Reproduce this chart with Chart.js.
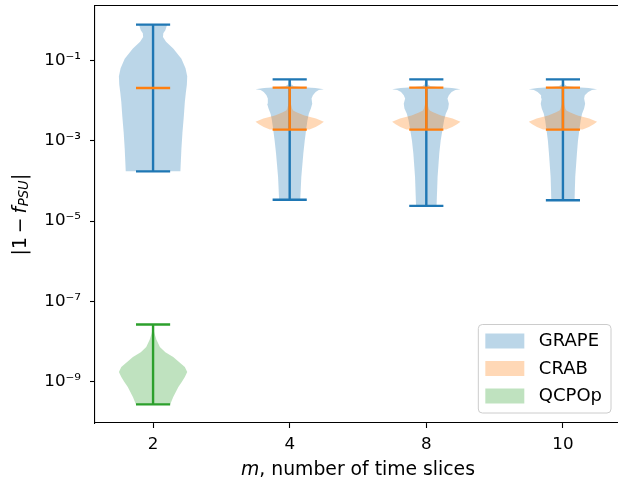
<!DOCTYPE html>
<html lang="en">
<head>
<meta charset="UTF-8" />
<title>Violin plot – infidelity vs time slices</title>
<script src="https://cdn.jsdelivr.net/npm/chart.js"></script>
<style>
  html, body { margin: 0; padding: 0; background: #fff; overflow: hidden; }
  #wrap { width: 624px; height: 478px; position: relative; }
</style>
</head>
<body>
<div id="wrap"><canvas id="chart"></canvas></div>
<script>
const positions = [1, 2, 3, 4];
const mLabels = ['2', '4', '8', '10'];
const yTickExps = [-1, -3, -5, -7, -9];
const seriesNames = ['GRAPE', 'CRAB', 'QCPOp'];
const seriesColors = ['31, 119, 180', '255, 127, 14', '44, 160, 44'];

// extrema per m value
const grapeMax = [0.77, 0.0336, 0.0336, 0.0336];
const grapeMin = [1.73e-4, 3.4e-5, 2.4e-5, 3.3e-5];
const crabMax = [0.0205, 0.0209, 0.0209, 0.0209];
const crabMin = [0.0205, 1.89e-3, 1.89e-3, 1.89e-3];
const qcpoMax = [2.7e-8];
const qcpoMin = [2.77e-10];

// violin outlines: log10 of the value, and half width relative to the widest point
const grapeM2Log = [-0.114, -0.25, -0.33, -0.42, -0.54, -0.71, -0.96, -1.2, -1.4, -1.6, -1.8, -2.04, -2.4, -2.8, -3.2, -3.761];
const grapeM2Width = [0.41, 0.36, 0.30, 0.29, 0.38, 0.59, 0.83, 0.95, 1.0, 0.99, 0.96, 0.93, 0.90, 0.86, 0.83, 0.80];
const grapeM4Log = [-1.473, -1.6, -1.645, -1.67, -1.69, -1.72, -1.74, -1.79, -1.87, -1.95, -2.08, -2.2, -2.33, -2.49, -2.74, -3.0, -3.31, -3.9, -4.465];
const grapeM4Width = [0.03, 0.05, 0.12, 0.4, 0.75, 1.0, 0.85, 0.76, 0.68, 0.64, 0.66, 0.62, 0.56, 0.52, 0.48, 0.44, 0.40, 0.34, 0.31];
const grapeM8Log = [-1.473, -1.6, -1.645, -1.67, -1.69, -1.72, -1.74, -1.79, -1.87, -1.95, -2.08, -2.2, -2.33, -2.49, -2.74, -3.0, -3.31, -3.9, -4.624];
const grapeM8Width = [0.03, 0.05, 0.12, 0.4, 0.75, 1.0, 0.85, 0.74, 0.66, 0.62, 0.66, 0.64, 0.57, 0.52, 0.47, 0.42, 0.38, 0.33, 0.30];
const grapeM10Log = [-1.473, -1.6, -1.645, -1.67, -1.69, -1.72, -1.74, -1.79, -1.87, -1.95, -2.08, -2.2, -2.33, -2.49, -2.74, -3.0, -3.31, -3.9, -4.483];
const grapeM10Width = [0.03, 0.05, 0.12, 0.4, 0.75, 1.0, 0.85, 0.74, 0.64, 0.62, 0.65, 0.62, 0.56, 0.52, 0.48, 0.44, 0.41, 0.36, 0.34];
const crabM4Log = [-1.679, -1.9, -2.1, -2.2, -2.25, -2.29, -2.37, -2.45, -2.53, -2.59, -2.66, -2.724];
const crabM4Width = [0.02, 0.03, 0.04, 0.07, 0.1, 0.2, 0.43, 0.77, 1.0, 0.9, 0.76, 0.58];
const crabM8Log = [-1.679, -1.9, -2.1, -2.2, -2.25, -2.29, -2.37, -2.45, -2.53, -2.59, -2.66, -2.724];
const crabM8Width = [0.02, 0.03, 0.04, 0.07, 0.1, 0.2, 0.43, 0.77, 1.0, 0.9, 0.76, 0.58];
const crabM10Log = [-1.679, -1.9, -2.1, -2.2, -2.25, -2.29, -2.37, -2.45, -2.53, -2.59, -2.66, -2.724];
const crabM10Width = [0.02, 0.03, 0.04, 0.07, 0.1, 0.2, 0.43, 0.77, 1.0, 0.9, 0.76, 0.58];
const qcpoM2Log = [-7.567, -7.7, -7.791, -7.95, -8.132, -8.26, -8.381, -8.629, -8.754, -8.878, -9.0, -9.127, -9.376, -9.557];
const qcpoM2Width = [0.0, 0.02, 0.04, 0.1, 0.2, 0.36, 0.59, 0.93, 1.0, 0.93, 0.84, 0.74, 0.59, 0.5];

const FONT = "'DejaVu Sans', sans-serif";
const halfWidth = 0.25;   // widest point of a violin, in x units
const capHalf = 0.125;

const supMap = { '-': '\u207B', '0': '\u2070', '1': '\u00B9', '2': '\u00B2', '3': '\u00B3',
  '4': '\u2074', '5': '\u2075', '6': '\u2076', '7': '\u2077', '8': '\u2078', '9': '\u2079' };
const sup = n => String(n).split('').map(c => supMap[c]).join('');

function bodyPoints(pos, logs, widths) {
  const right = logs.map((l, i) => ({ x: pos + halfWidth * widths[i], y: Math.pow(10, l) }));
  const left = logs.map((l, i) => ({ x: pos - halfWidth * widths[i], y: Math.pow(10, l) })).reverse();
  return right.concat(left);
}

function extremaPoints(mins, maxs) {
  const pts = [];
  mins.forEach((mn, i) => {
    const p = positions[i], mx = maxs[i];
    pts.push({ x: p - capHalf, y: mx }, { x: p + capHalf, y: mx }, { x: p, y: null },
             { x: p, y: mx }, { x: p, y: mn }, { x: p, y: null },
             { x: p - capHalf, y: mn }, { x: p + capHalf, y: mn }, { x: p, y: null });
  });
  return pts;
}

function body(series, pos, logs, widths, order) {
  return {
    label: seriesNames[series],
    data: bodyPoints(pos, logs, widths),
    fill: 'shape',
    backgroundColor: 'rgba(' + seriesColors[series] + ', 0.3)',
    borderWidth: 0,
    pointRadius: 0,
    tension: 0,
    order: order
  };
}

function lines(series, mins, maxs, order) {
  return {
    label: seriesNames[series],
    data: extremaPoints(mins, maxs),
    fill: false,
    borderColor: 'rgb(' + seriesColors[series] + ')',
    borderWidth: 2.4,
    borderCapStyle: 'butt',
    pointRadius: 0,
    tension: 0,
    spanGaps: false,
    order: order
  };
}

const datasets = [
  body(0, positions[0], grapeM2Log, grapeM2Width, 10),
  body(0, positions[1], grapeM4Log, grapeM4Width, 10),
  body(0, positions[2], grapeM8Log, grapeM8Width, 10),
  body(0, positions[3], grapeM10Log, grapeM10Width, 10),
  lines(0, grapeMin, grapeMax, 9),
  body(1, positions[1], crabM4Log, crabM4Width, 8),
  body(1, positions[2], crabM8Log, crabM8Width, 8),
  body(1, positions[3], crabM10Log, crabM10Width, 8),
  lines(1, crabMin, crabMax, 7),
  body(2, positions[0], qcpoM2Log, qcpoM2Width, 6),
  lines(2, qcpoMin, qcpoMax, 5)
];

// top/right spines, axis titles with math styling, and the legend box
const decorations = {
  id: 'decorations',
  afterDraw(chart) {
    const { ctx, chartArea: a } = chart;
    ctx.save();
    ctx.strokeStyle = '#000';
    ctx.lineWidth = 1.1;
    ctx.beginPath();
    ctx.moveTo(a.left, a.top - 0.5);
    ctx.lineTo(a.right, a.top - 0.5);
    ctx.lineTo(a.right, a.bottom);
    ctx.stroke();

    ctx.fillStyle = '#000';
    ctx.textBaseline = 'alphabetic';
    // x title: $m$, number of time slices
    const fs = 18.8;
    ctx.font = 'italic ' + fs + 'px ' + FONT;
    const wm = ctx.measureText('m').width;
    ctx.font = fs + 'px ' + FONT;
    const rest = ', number of time slices';
    const wr = ctx.measureText(rest).width;
    let x0 = (a.left + a.right) / 2 - (wm + wr) / 2;
    ctx.font = 'italic ' + fs + 'px ' + FONT;
    ctx.fillText('m', x0, 474.5);
    ctx.font = fs + 'px ' + FONT;
    ctx.fillText(rest, x0 + wm, 474.5);

    // y title: |1 - f_PSU|
    const parts = [
      { t: '|1', f: fs + 'px ' + FONT, dy: 0, gap: 4 },
      { t: '\u2212', f: fs + 'px ' + FONT, dy: 0, gap: 4 },
      { t: 'f', f: 'italic ' + fs + 'px ' + FONT, dy: 0, gap: 0.5 },
      { t: 'PSU', f: 'italic ' + (fs * 0.7) + 'px ' + FONT, dy: 2.8, gap: 0.5 },
      { t: '|', f: fs + 'px ' + FONT, dy: 0, gap: 0 }
    ];
    let total = 0;
    parts.forEach(p => { ctx.font = p.f; p.w = ctx.measureText(p.t).width; total += p.w + p.gap; });
    ctx.translate(25.5, (a.top + a.bottom) / 2);
    ctx.rotate(-Math.PI / 2);
    let px = -total / 2;
    parts.forEach(p => { ctx.font = p.f; ctx.fillText(p.t, px, p.dy); px += p.w + p.gap; });
    ctx.setTransform(1, 0, 0, 1, 0, 0);

    // legend, lower right inside the axes
    const lf = 18;
    ctx.font = lf + 'px ' + FONT;
    const textW = Math.max(...seriesNames.map(n => ctx.measureText(n).width));
    const bw = 7 + 39 + 14.5 + textW + 9;
    const bh = 88.5;
    const bx = a.right - 10 - bw;
    const by = a.bottom - 10 - bh;
    ctx.beginPath();
    ctx.roundRect(bx, by, bw, bh, 4);
    ctx.fillStyle = 'rgba(255,255,255,0.8)';
    ctx.fill();
    ctx.strokeStyle = '#cccccc';
    ctx.lineWidth = 1;
    ctx.stroke();
    ctx.textBaseline = 'middle';
    seriesNames.forEach((n, i) => {
      const py = by + 9 + i * 27.5;
      ctx.fillStyle = 'rgba(' + seriesColors[i] + ', 0.3)';
      ctx.fillRect(bx + 7, py, 39, 15);
      ctx.fillStyle = '#000';
      ctx.fillText(n, bx + 7 + 39 + 14.5, py + 8);
    });
    ctx.restore();
  }
};

new Chart(document.getElementById('chart'), {
  type: 'line',
  data: { datasets },
  options: {
    responsive: true,
    maintainAspectRatio: false,
    animation: false,
    events: [],
    layout: { padding: { top: 6, right: 3, left: 0, bottom: 0 } },
    plugins: { legend: { display: false }, tooltip: { enabled: false } },
    scales: {
      x: {
        type: 'linear',
        min: 0.575,
        max: 4.425,
        afterBuildTicks: s => { s.ticks = positions.map(v => ({ value: v })); },
        afterFit: s => { s.height = 55; s.paddingLeft = 0; s.paddingRight = 0; },
        ticks: {
          callback: v => mLabels[positions.indexOf(v)],
          font: { family: FONT, size: 16.7 },
          color: '#000',
          padding: 7,
          maxRotation: 0,
          autoSkip: false
        },
        grid: { drawOnChartArea: false, drawTicks: true, tickLength: 5, color: '#000', tickWidth: 1.1 },
        border: { display: true, color: '#000', width: 1.1 }
      },
      y: {
        type: 'logarithmic',
        min: Math.pow(10, -10.02),
        max: Math.pow(10, 0.35),
        afterBuildTicks: s => { s.ticks = yTickExps.map(e => ({ value: Math.pow(10, e) })); },
        afterFit: s => { s.width = 95; s.paddingTop = 0; s.paddingBottom = 0; },
        ticks: {
          callback: v => '10' + sup(Math.round(Math.log10(v))),
          font: { family: FONT, size: 16.7 },
          color: '#000',
          padding: 9,
          autoSkip: false
        },
        grid: { drawOnChartArea: false, drawTicks: true, tickLength: 5, color: '#000', tickWidth: 1.1 },
        border: { display: true, color: '#000', width: 1.1 }
      }
    }
  },
  plugins: [decorations]
});
</script>
</body>
</html>
